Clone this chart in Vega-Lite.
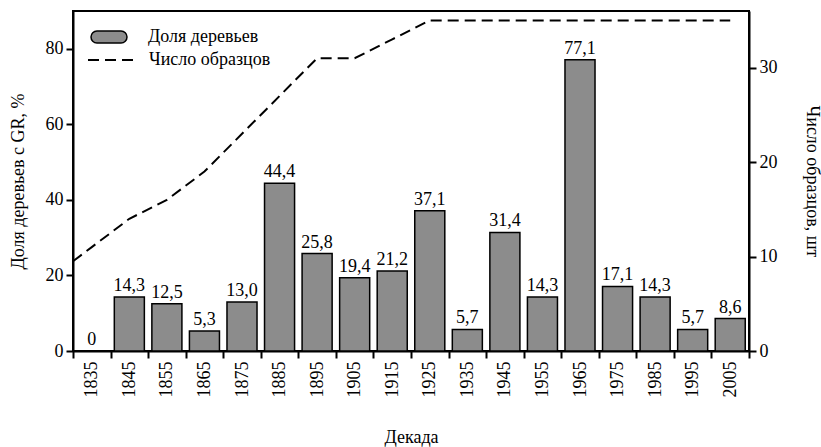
{
  "$schema": "https://vega.github.io/schema/vega-lite/v6.json",
  "autosize": {"type": "none"},
  "width": 676,
  "height": 340,
  "padding": {"left": 73, "top": 11, "right": 72, "bottom": 96},
  "background": "white",
  "config": {
    "font": "Liberation Serif, Times New Roman, serif",
    "view": {"stroke": "black", "strokeWidth": 2},
    "text": {"font": "Liberation Serif, Times New Roman, serif"},
    "axis": {
      "domainColor": "black",
      "domainWidth": 2,
      "tickColor": "black",
      "tickWidth": 2,
      "tickSize": 7,
      "labelFont": "Liberation Serif, Times New Roman, serif",
      "labelFontSize": 18,
      "labelColor": "black",
      "labelPadding": 3,
      "titleFont": "Liberation Serif, Times New Roman, serif",
      "titleFontSize": 18,
      "titleFontWeight": "normal",
      "titleColor": "black",
      "grid": false
    },
    "legend": {
      "labelFont": "Liberation Serif, Times New Roman, serif",
      "labelFontSize": 18,
      "labelColor": "black"
    }
  },
  "datasets": {
    "shares": [
      {"decade": 1835, "share": 0},
      {"decade": 1845, "share": 14.3},
      {"decade": 1855, "share": 12.5},
      {"decade": 1865, "share": 5.3},
      {"decade": 1875, "share": 13.0},
      {"decade": 1885, "share": 44.4},
      {"decade": 1895, "share": 25.8},
      {"decade": 1905, "share": 19.4},
      {"decade": 1915, "share": 21.2},
      {"decade": 1925, "share": 37.1},
      {"decade": 1935, "share": 5.7},
      {"decade": 1945, "share": 31.4},
      {"decade": 1955, "share": 14.3},
      {"decade": 1965, "share": 77.1},
      {"decade": 1975, "share": 17.1},
      {"decade": 1985, "share": 14.3},
      {"decade": 1995, "share": 5.7},
      {"decade": 2005, "share": 8.6}
    ],
    "samples": [
      {"decade": 1830, "count": 9.5},
      {"decade": 1835, "count": 11},
      {"decade": 1845, "count": 14},
      {"decade": 1855, "count": 16},
      {"decade": 1865, "count": 19},
      {"decade": 1875, "count": 23},
      {"decade": 1885, "count": 27},
      {"decade": 1895, "count": 31},
      {"decade": 1905, "count": 31},
      {"decade": 1915, "count": 33},
      {"decade": 1925, "count": 35},
      {"decade": 1935, "count": 35},
      {"decade": 1945, "count": 35},
      {"decade": 1955, "count": 35},
      {"decade": 1965, "count": 35},
      {"decade": 1975, "count": 35},
      {"decade": 1985, "count": 35},
      {"decade": 1995, "count": 35},
      {"decade": 2005, "count": 35}
    ]
  },
  "layer": [
    {
      "data": {"name": "shares"},
      "transform": [
        {"calculate": "datum.share == 0 ? '0' : replace(format(datum.share, '.1f'), '.', ',')", "as": "label"}
      ],
      "encoding": {
        "x": {
          "field": "decade",
          "type": "ordinal",
          "scale": {"paddingInner": 0, "paddingOuter": 0},
          "axis": {
            "title": "Декада",
            "labelAngle": -90,
            "tickBand": "extent",
            "titlePadding": 31
          }
        },
        "y": {
          "field": "share",
          "type": "quantitative",
          "scale": {"domain": [0, 90], "nice": false},
          "axis": {
            "title": "Доля деревьев с GR, %",
            "values": [0, 20, 40, 60, 80],
            "titlePadding": 18
          }
        }
      },
      "layer": [
        {
          "mark": {"type": "bar", "width": {"band": 0.8}, "stroke": "black", "strokeWidth": 1.5},
          "encoding": {
            "fill": {
              "datum": "Доля деревьев",
              "scale": {"range": ["#8c8c8c"]},
              "legend": {
                "title": null,
                "orient": "none",
                "legendX": 17,
                "legendY": 7,
                "padding": 0,
                "symbolType": "M-0.67,-0.33L0.67,-0.33A0.33,0.33 0 0 1 0.67,0.33L-0.67,0.33A0.33,0.33 0 0 1 -0.67,-0.33Z",
                "symbolSize": 1296,
                "symbolStrokeColor": "black",
                "symbolStrokeWidth": 1.5,
                "symbolOpacity": 1,
                "labelOffset": 20
              }
            }
          }
        },
        {
          "mark": {"type": "text", "baseline": "bottom", "dy": -2, "fontSize": 18, "color": "black"},
          "encoding": {"text": {"field": "label"}}
        }
      ]
    },
    {
      "data": {"name": "samples"},
      "mark": {"type": "line", "color": "black", "strokeWidth": 2},
      "encoding": {
        "x": {
          "field": "decade",
          "type": "quantitative",
          "scale": {"domain": [1830, 2010], "nice": false, "zero": false},
          "axis": null
        },
        "y": {
          "field": "count",
          "type": "quantitative",
          "scale": {"domain": [0, 36], "nice": false},
          "axis": {
            "orient": "right",
            "title": "Число образцов, шт",
            "values": [0, 10, 20, 30],
            "titlePadding": 25
          }
        },
        "strokeDash": {
          "datum": "Число образцов",
          "scale": {"range": [[11, 6]]},
          "legend": {
            "title": null,
            "orient": "none",
            "legendX": 14,
            "legendY": 25,
            "padding": 0,
            "symbolType": "stroke",
            "symbolSize": 2116,
            "symbolStrokeColor": "black",
            "symbolStrokeWidth": 2,
            "labelOffset": 14
          }
        }
      }
    }
  ],
  "resolve": {
    "scale": {"x": "independent", "y": "independent", "fill": "independent", "strokeDash": "independent"}
  }
}
